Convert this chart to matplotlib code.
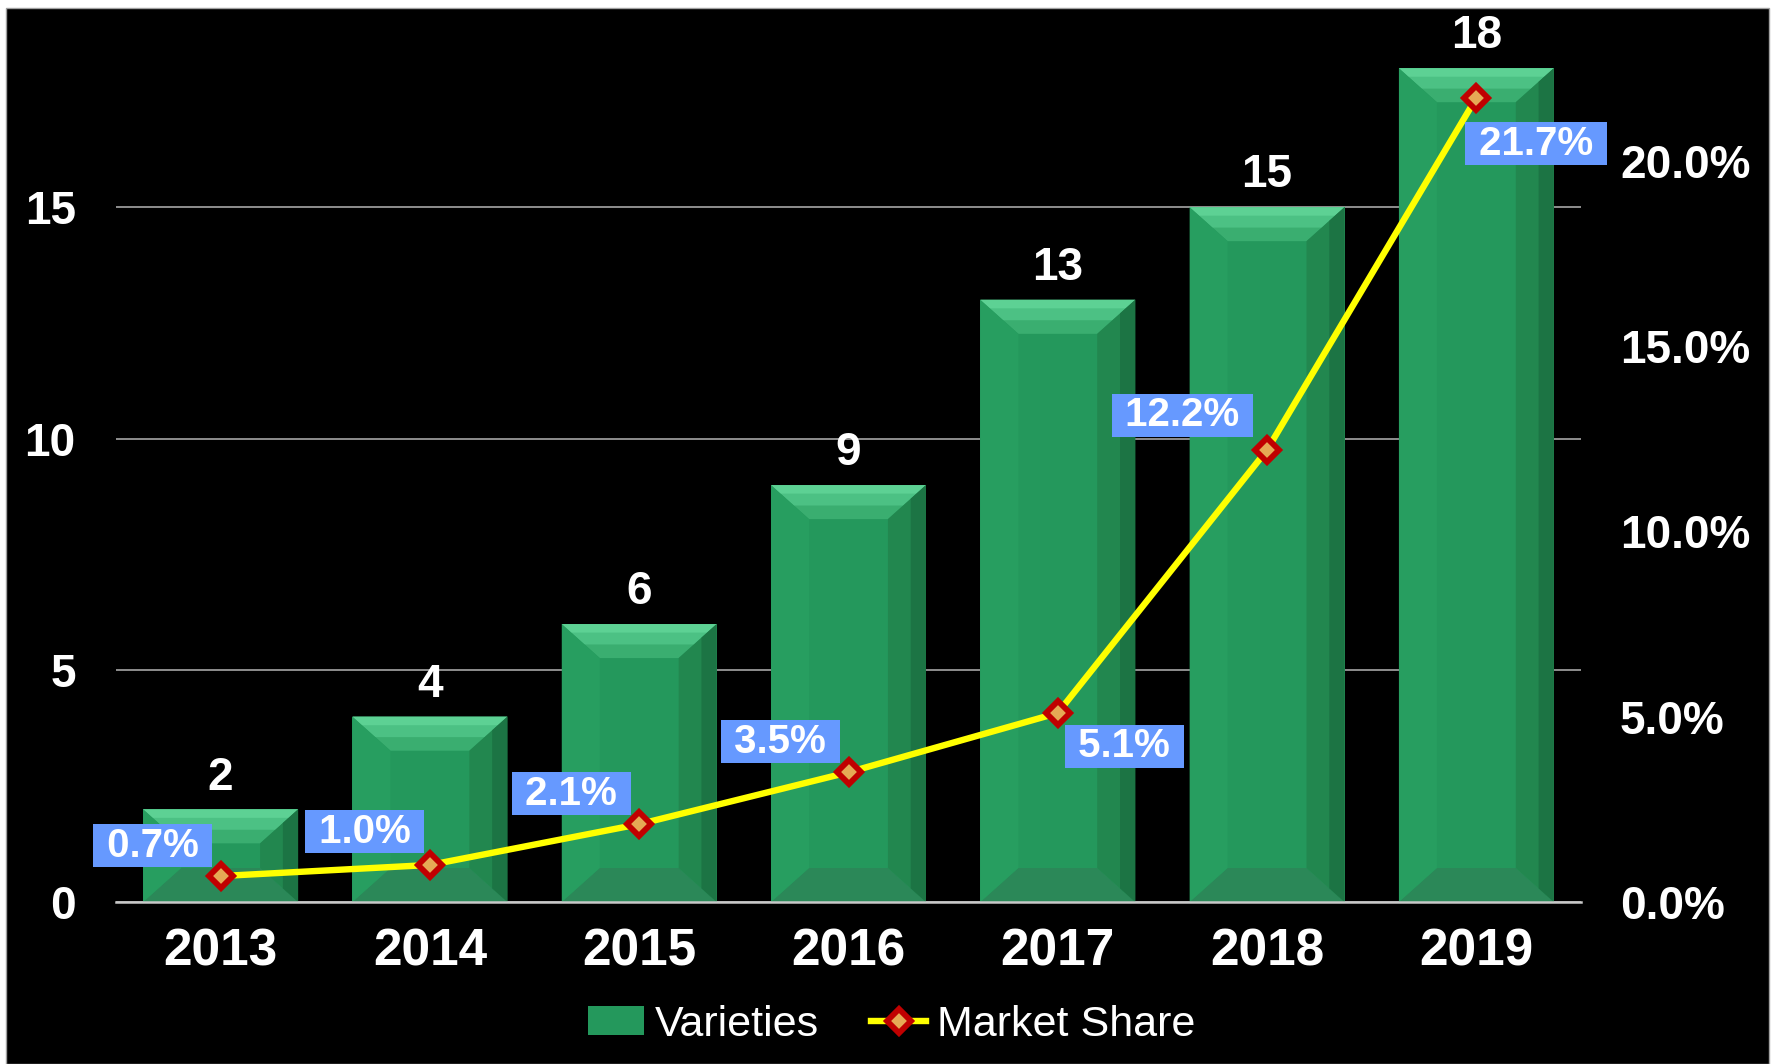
import matplotlib
matplotlib.use("Agg")
import matplotlib.pyplot as plt
from matplotlib.patches import Polygon, Rectangle
from matplotlib.ticker import FuncFormatter, FixedLocator

years = ["2013", "2014", "2015", "2016", "2017", "2018", "2019"]
varieties = [2, 4, 6, 9, 13, 15, 18]
market_share = [0.7, 1.0, 2.1, 3.5, 5.1, 12.2, 21.7]

left_ticks = [0, 5, 10, 15]
right_ticks = [0, 5, 10, 15, 20]

# where each share label sits relative to its marker (points)
label_offsets = [(-49, 22), (-47, 24), (-49, 22), (-49, 22), (48, -24), (-61, 25), (43, -33)]

plt.rcParams["font.family"] = ["Liberation Sans", "DejaVu Sans"]

fig = plt.figure(figsize=(17.73, 10.64), dpi=100, facecolor="white")
fig.patches.append(Rectangle((6 / 1773, 0), 1763 / 1773, 1056 / 1064,
                             transform=fig.transFigure, facecolor="black",
                             edgecolor="#a0a0a0", linewidth=1, zorder=-10))

ax = fig.add_axes([116 / 1773, 1 - 902 / 1064, 1465 / 1773, 894 / 1064])
ax.set_facecolor("none")
y_top = 19.3
ax.set_ylim(0, y_top)
ax.set_xlim(-0.5, len(years) - 0.5)

x = list(range(len(years)))
width = 0.74
bars = ax.bar(x, varieties, width=width, color="#24985c", zorder=2, label="Varieties")

# bevel effect on each bar
px_y = ax.bbox.height / y_top
px_x = ax.bbox.width / len(years)
for xi, h in zip(x, varieties):
    x0, x1 = xi - width / 2, xi + width / 2
    by = min(34 / px_y, h * 0.4)
    bx = min(38 / px_x, width * 0.45)
    faces = [
        ([(x0, h), (x1, h), (x1 - bx, h - by), (x0 + bx, h - by)], "#3aae70"),
        ([(x0, h), (x1, h), (x1 - bx * 0.6, h - by * 0.6), (x0 + bx * 0.6, h - by * 0.6)], "#4cc184"),
        ([(x0, h), (x1, h), (x1 - bx * 0.25, h - by * 0.25), (x0 + bx * 0.25, h - by * 0.25)], "#5dd194"),
        ([(x0, 0), (x1, 0), (x1 - bx, by), (x0 + bx, by)], "#2b8858"),
        ([(x0, 0), (x0 + bx, by), (x0 + bx, h - by), (x0, h)], "#279e60"),
        ([(x1, 0), (x1 - bx, by), (x1 - bx, h - by), (x1, h)], "#22874f"),
        ([(x1, 0), (x1 - bx * 0.4, by * 0.4), (x1 - bx * 0.4, h - by * 0.4), (x1, h)], "#1c7444"),
    ]
    for pts, col in faces:
        ax.add_patch(Polygon(pts, closed=True, facecolor=col, edgecolor="none", zorder=2.1))

for xi, h in zip(x, varieties):
    ax.annotate(str(h), (xi, h), xytext=(0, 7), textcoords="offset points",
                ha="center", va="bottom", fontsize=33, fontweight="bold",
                color="white", annotation_clip=False)

ax.yaxis.set_major_locator(FixedLocator(left_ticks))
ax.grid(axis="y", color="#a6a6a6", linewidth=1.2, zorder=0)
ax.set_axisbelow(True)
for side in ["left", "right", "top"]:
    ax.spines[side].set_visible(False)
ax.spines["bottom"].set_color("#c8c8c8")
ax.spines["bottom"].set_linewidth(1.8)
ax.spines["bottom"].set_zorder(3)

ax.set_xticks(x)
ax.set_xticklabels(years)
ax.tick_params(axis="x", length=0, pad=18, labelsize=37, labelcolor="white")
ax.tick_params(axis="y", length=0, pad=29, labelsize=33, labelcolor="white")
for lbl in ax.get_xticklabels() + ax.get_yticklabels():
    lbl.set_fontweight("bold")

ax2 = ax.twinx()
ax2.set_ylim(0, y_top * 1.25)
for side in ["left", "right", "top", "bottom"]:
    ax2.spines[side].set_visible(False)
ax2.yaxis.set_major_locator(FixedLocator(right_ticks))
ax2.yaxis.set_major_formatter(FuncFormatter(lambda v, p: f"{v:.1f}%"))
ax2.tick_params(axis="y", length=0, pad=28, labelsize=33, labelcolor="white")
for lbl in ax2.get_yticklabels():
    lbl.set_fontweight("bold")

line, = ax2.plot(x, market_share, color="#ffff00", linewidth=4.6, marker="D",
                 markersize=12, markerfacecolor="#e6a955", markeredgecolor="#c00000",
                 markeredgewidth=4.2, zorder=5, label="Market Share")

for xi, v, off in zip(x, market_share, label_offsets):
    ax2.annotate(f" {v:.1f}% ", (xi, v), xytext=off, textcoords="offset points",
                 ha="center", va="center", fontsize=29, fontweight="bold", color="white",
                 bbox=dict(boxstyle="square,pad=0.06", facecolor="#6699ff", edgecolor="none"),
                 zorder=6, annotation_clip=False)

leg = fig.legend([bars, line], ["Varieties", "Market Share"], loc="center",
                 bbox_to_anchor=(0.503, 0.037), ncol=2, frameon=False, fontsize=31,
                 handlelength=1.3, handleheight=0.65, handletextpad=0.25, columnspacing=1.2)
for t in leg.get_texts():
    t.set_color("white")

fig.savefig("out.png", dpi=100, facecolor=fig.get_facecolor())
